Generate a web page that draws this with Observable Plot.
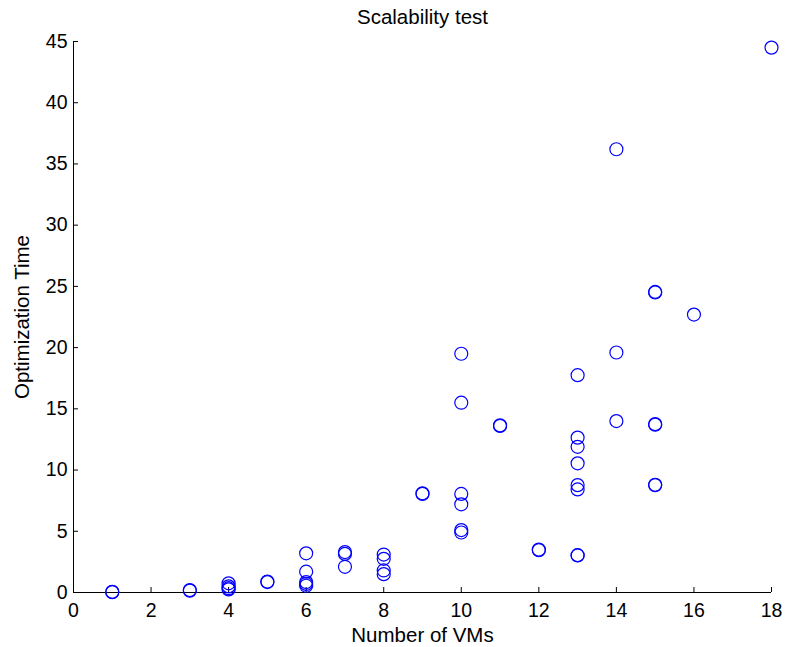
<!DOCTYPE html>
<html>
<head>
<meta charset="utf-8">
<script src="https://cdn.jsdelivr.net/npm/d3@7"></script>
<script src="https://cdn.jsdelivr.net/npm/@observablehq/plot@0.6"></script>
<style>
  html, body { margin: 0; padding: 0; background: #fff; }
  #chart svg { display: block; }
</style>
</head>
<body>
<div id="chart"></div>
<script>
// Number of VMs for each run
const vms = [
  1, 1,
  3, 3,
  4, 4, 4, 4,
  5, 5,
  6, 6, 6, 6, 6,
  7, 7, 7,
  8, 8, 8, 8,
  9, 9,
  10, 10, 10, 10, 10, 10,
  11, 11,
  12, 12,
  13, 13, 13, 13, 13, 13, 13, 13,
  14, 14, 14,
  15, 15, 15, 15, 15, 15,
  16,
  18
];
// Optimization time for each run
const times = [
  0.05, 0.03,
  0.15, 0.2,
  0.75, 0.5, 0.35, 0.25,
  0.85, 0.9,
  3.2, 1.7, 0.85, 0.7, 0.55,
  3.3, 3.15, 2.1,
  3.1, 2.75, 1.8, 1.5,
  8.1, 8.05,
  19.5, 15.5, 8.05, 7.2, 5.1, 4.9,
  13.6, 13.65,
  3.5, 3.45,
  17.75, 12.65, 11.9, 10.55, 8.77, 8.42, 3.03, 3.05,
  36.2, 19.6, 14.0,
  24.5, 24.55, 13.75, 13.7, 8.77, 8.8,
  22.7,
  44.5
];
const xTicks = [0, 2, 4, 6, 8, 10, 12, 14, 16, 18];
const yTicks = [0, 5, 10, 15, 20, 25, 30, 35, 40, 45];
const title = "Scalability test";
const xLabel = "Number of VMs";
const yLabel = "Optimization Time";

const data = vms.map((v, i) => ({vms: v, time: times[i]}));

const chart = Plot.plot({
  width: 787,
  height: 647,
  marginLeft: 73,
  marginRight: 16,
  marginTop: 41,
  marginBottom: 55,
  style: {fontFamily: "'Liberation Sans', Arial, Helvetica, sans-serif", fontSize: "19px", color: "#000", background: "#fff"},
  x: {domain: [0, 18]},
  y: {domain: [0, 45]},
  marks: [
    Plot.axisX(xTicks, {tickSize: -5, tickPadding: 16, fontSize: 19.5, label: null}),
    Plot.axisY(yTicks, {tickSize: -5, tickPadding: 11, fontSize: 19.5, label: null}),
    Plot.ruleX([0], {stroke: "#000"}),
    Plot.ruleY([0], {stroke: "#000"}),
    Plot.text([xLabel], {frameAnchor: "bottom", lineAnchor: "middle", textAnchor: "middle", dy: 43, fontSize: 20.5, text: d => d}),
    Plot.text([yLabel], {frameAnchor: "left", lineAnchor: "middle", textAnchor: "middle", dx: -51, rotate: -90, fontSize: 20.5, text: d => d}),
    Plot.text([title], {frameAnchor: "top", lineAnchor: "middle", textAnchor: "middle", dy: -24, fontSize: 20.5, text: d => d}),
    Plot.dot(data, {x: "vms", y: "time", r: 6.5, stroke: "#0000ff", strokeWidth: 1.2, fill: "none"})
  ]
});
document.getElementById("chart").appendChild(chart);
</script>
</body>
</html>
